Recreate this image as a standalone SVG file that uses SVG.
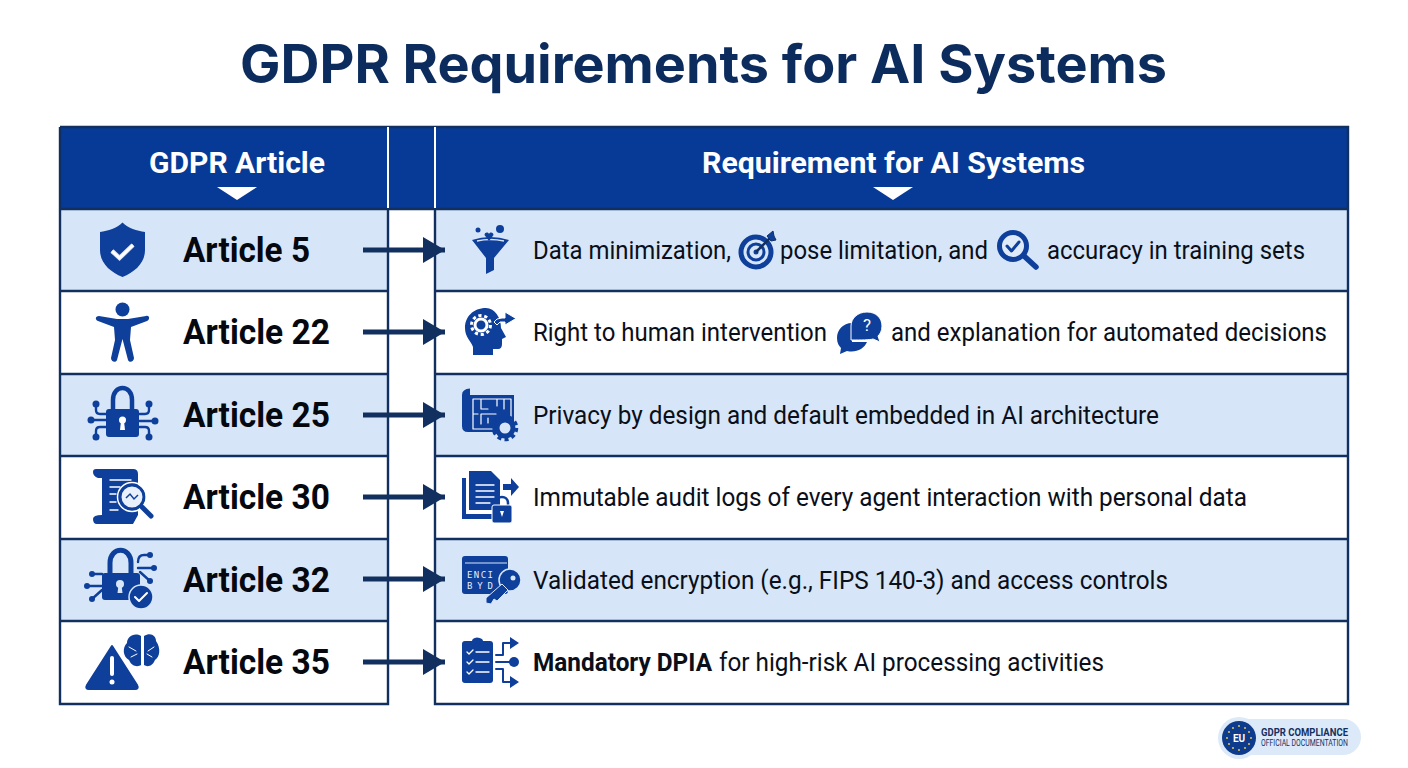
<svg xmlns="http://www.w3.org/2000/svg" width="1408" height="768" viewBox="0 0 1408 768">
<style>
.ttl{font:700 53px Inter,"Liberation Sans",sans-serif;fill:#0c2c5e}
.hd{font:700 30px Roboto,"Liberation Sans",sans-serif;fill:#fff}
.art{font:700 35px Roboto,"Liberation Sans",sans-serif;fill:#05080f}
.req{font:400 26.500px Roboto,"Liberation Sans",sans-serif;fill:#0a0f1a}
.b{font-weight:700}
.blue{fill:#0e3f9b}
.ln{fill:none;stroke:#0e3f9b;stroke-width:2.400;stroke-linecap:round;stroke-linejoin:round}
.wl{fill:none;stroke:#fff;stroke-width:2;stroke-linecap:round;stroke-linejoin:round}
.grid{fill:none;stroke:#12305f;stroke-width:2.400}
.con{stroke:#12305f;stroke-width:5;fill:none}
</style>
<defs>
<marker id="ah" markerUnits="userSpaceOnUse" markerWidth="24" markerHeight="26" refX="22" refY="13" orient="auto"><path d="M0 0L22 13L0 26Z" fill="#12305f"/></marker>
</defs>
<rect width="1408" height="768" fill="#fff"/>
<text class="ttl" x="240" y="83" textLength="927" lengthAdjust="spacingAndGlyphs">GDPR Requirements for AI Systems</text>

<g id="table">
<rect x="60" y="127" width="1288" height="82" fill="#063a96"/>
<rect x="60" y="209" width="328" height="82" fill="#d6e6f8"/><rect x="435" y="209" width="913" height="82" fill="#d6e6f8"/>
<rect x="60" y="374" width="328" height="82" fill="#d6e6f8"/><rect x="435" y="374" width="913" height="82" fill="#d6e6f8"/>
<rect x="60" y="539" width="328" height="82" fill="#d6e6f8"/><rect x="435" y="539" width="913" height="82" fill="#d6e6f8"/>
<path class="grid" d="M60 127H1348V704H435V209M388 209V704H60V127M60 209H1348M60 291H388M435 291H1348M60 374H388M435 374H1348M60 456H388M435 456H1348M60 539H388M435 539H1348M60 621H388M435 621H1348"/>
<path d="M388 127V208M435 127V208" stroke="#fff" stroke-width="2" fill="none"/>
</g>

<g id="header-article"><text class="hd" x="149" y="173" textLength="176" lengthAdjust="spacingAndGlyphs">GDPR Article</text><path d="M217 187H257L237 200Z" fill="#fff"/></g>
<g id="header-requirement"><text class="hd" x="702" y="173" textLength="383" lengthAdjust="spacingAndGlyphs">Requirement for AI Systems</text><path d="M873 187H913L893 200Z" fill="#fff"/></g>

<g id="connectors">
<path class="con" d="M363 250H445" marker-end="url(#ah)"/>
<path class="con" d="M363 332H445" marker-end="url(#ah)"/>
<path class="con" d="M363 415H445" marker-end="url(#ah)"/>
<path class="con" d="M363 497H445" marker-end="url(#ah)"/>
<path class="con" d="M363 579H445" marker-end="url(#ah)"/>
<path class="con" d="M363 662H445" marker-end="url(#ah)"/>
</g>

<g id="article-5">
<path class="blue" d="M122.500 222.500C128 228 137 231 145 232V250C145 263 135 272 122.500 277C110 272 100 263 100 250V232C108 231 117 228 122.500 222.500Z"/>
<path d="M112 251L119.500 258L133 245" fill="none" stroke="#fff" stroke-width="4.500" stroke-opacity=".85"/>
<path d="M112 251L119.500 258L133 245" fill="none" stroke="#fff" stroke-width="2.500"/>
<text class="art" x="183" y="261.500" textLength="127" lengthAdjust="spacingAndGlyphs">Article 5</text>
</g>
<g id="article-22">
<circle class="blue" cx="122.500" cy="309.500" r="7"/>
<path class="blue" d="M99 316L117 319H128L146 316C150 315 150 320 147 321L131 327L130 340L134 358C134 362 129 363 128 360L122.500 339L117 360C116 363 111 362 111 358L115 340L114 327L98 321C95 320 95 316 99 316Z"/>
<text class="art" x="183" y="344" textLength="147" lengthAdjust="spacingAndGlyphs">Article 22</text>
</g>
<g id="article-25">
<path class="ln" style="stroke-width:4.500" d="M113 410V400C113 384 132 384 132 400V410"/>
<rect class="blue" x="106" y="409" width="33" height="28" rx="3"/>
<circle cx="122.500" cy="420" r="3.500" fill="#fff"/><path d="M121 421H124L125 430H120Z" fill="#fff"/>
<path class="ln" d="M96 404V410Q96 414 100 414H106M91 420H106M96 437V431Q96 427 100 427H106M149 404V410Q149 414 145 414H139M155 421H139M149 437V431Q149 427 145 427H139"/>
<circle class="blue" cx="96" cy="404" r="3.500"/><circle class="blue" cx="91" cy="420" r="3.500"/><circle class="blue" cx="96" cy="437" r="3.500"/><circle class="blue" cx="149" cy="404" r="3.500"/><circle class="blue" cx="155" cy="421" r="3.500"/><circle class="blue" cx="149" cy="437" r="3.500"/>
<text class="art" x="183" y="426.500" textLength="147" lengthAdjust="spacingAndGlyphs">Article 25</text>
</g>
<g id="article-30">
<path class="blue" d="M96 469H133Q138 469 138 474V515L133 524H97Q93 524 93 519Q93 515 102 515V478H98Q93 476 93 472Q93 469 96 469Z"/>
<path class="wl" style="stroke-width:1.400" d="M110 480H131M110 487H120M110 494H116M110 502H116M110 510H118"/>
<circle cx="132" cy="497" r="12" fill="#e8f0fb" stroke="#0e3f9b" stroke-width="3"/>
<circle cx="132" cy="497" r="14.500" fill="none" stroke="#fff" stroke-width="1.500"/>
<path d="M126 498L130 494L134 499L138 495" fill="none" stroke="#0e3f9b" stroke-width="1.500"/>
<path d="M142 507L151 516" stroke="#0e3f9b" stroke-width="5" stroke-linecap="round"/>
<text class="art" x="183" y="509" textLength="147" lengthAdjust="spacingAndGlyphs">Article 30</text>
</g>
<g id="article-32">
<path class="ln" style="stroke-width:5" d="M110 574V563C110 546 131 546 131 563V574"/>
<rect class="blue" x="102" y="573" width="38" height="27" rx="3"/>
<circle cx="120" cy="584" r="4" fill="#d6e6f8"/><path d="M118.500 585H121.500L122.500 593H117.500Z" fill="#d6e6f8"/>
<path class="ln" d="M92 574H102M87 586H102M92 599L102 590M150 555H144Q138 555 138 562M154 568H138M150 581L140 572"/>
<circle class="blue" cx="92" cy="574" r="3"/><circle class="blue" cx="87" cy="586" r="3"/><circle class="blue" cx="92" cy="599" r="3"/><circle class="blue" cx="150" cy="555" r="3"/><circle class="blue" cx="154" cy="568" r="3"/><circle class="blue" cx="150" cy="581" r="3"/>
<circle class="blue" cx="141" cy="597" r="12" stroke="#d6e6f8" stroke-width="1.500"/>
<path class="wl" d="M135 597L139 601L147 593"/>
<text class="art" x="183" y="591.500" textLength="147" lengthAdjust="spacingAndGlyphs">Article 32</text>
</g>
<g id="article-35">
<path class="blue" d="M112 646L137 685Q139 689 135 689H89Q85 689 87 685Z" stroke="#0e3f9b" stroke-width="2" stroke-linejoin="round"/>
<path d="M112 658V674" stroke="#fff" stroke-width="4" stroke-linecap="round"/><circle cx="112" cy="682" r="2.500" fill="#fff"/>
<path class="blue" d="M141 636C134 632 127 637 127 643C122 648 123 657 129 660C132 667 138 667 141 665Z"/>
<path class="blue" d="M144 636C151 632 156 636 156 641C161 648 160 657 155 660C152 667 147 667 144 665Z"/>
<path class="wl" style="stroke-width:1" d="M129 647L136 651M131 657L137 654M154 647L148 651M152 657L147 654"/>
<text class="art" x="183" y="674" textLength="147" lengthAdjust="spacingAndGlyphs">Article 35</text>
</g>

<g id="req-5">
<path class="blue" d="M472 240Q490 234 509 240L494 258V270L486 274V258Z"/>
<path d="M477 241Q490 238 504 241" stroke="#d6e6f8" stroke-width="1.500" fill="none"/>
<circle class="blue" cx="478" cy="230" r="2.500"/><circle class="blue" cx="500" cy="229" r="4"/><path class="blue" d="M489 241L484.500 235C485 232 488 232 489 234C490 232 493 232 493.500 235Z"/>
<text class="req" x="533" y="258.500" textLength="198" lengthAdjust="spacingAndGlyphs">Data minimization,</text>
<circle cx="756" cy="252" r="15" fill="none" stroke="#0e3f9b" stroke-width="5"/>
<circle cx="756" cy="252" r="8" fill="none" stroke="#0e3f9b" stroke-width="3"/>
<circle class="blue" cx="756" cy="252" r="2.500"/>
<path d="M756 252L771 237" stroke="#12305f" stroke-width="2.500"/><path class="blue" d="M767 236L773 231L774 236L776 240L771 241Z" stroke="#12305f" stroke-width="1"/>
<text class="req" x="780" y="258.500" textLength="208" lengthAdjust="spacingAndGlyphs">pose limitation, and</text>
<circle cx="1013" cy="246" r="13.500" fill="#dfeaf8" stroke="#0e3f9b" stroke-width="5"/>
<path class="ln" style="stroke-width:3" d="M1007 246L1011.500 251L1019 242"/>
<path d="M1024 256L1036 267" stroke="#0e3f9b" stroke-width="5.500" stroke-linecap="round"/>
<text class="req" x="1047" y="258.500" textLength="258" lengthAdjust="spacingAndGlyphs">accuracy in training sets</text>
</g>
<g id="req-22">
<path class="blue" d="M486 308C473 308 465 317 465 328C465 337 471 341 473 347V355H493V349H498Q502 349 502 344V339L506 337L501 328C501 318 495 308 486 308Z"/>
<circle cx="481" cy="325" r="9.500" fill="none" stroke="#fff" stroke-width="3" stroke-dasharray="3.200 2.770"/>
<circle cx="481" cy="325" r="6" fill="none" stroke="#fff" stroke-width="3"/>
<path d="M494 322Q496 318 502 318H505V312L516 318.500L505 325V322H500L497 325Z" fill="#0e3f9b" stroke="#fff" stroke-width="1"/>
<text class="req" x="533" y="340.500" textLength="294" lengthAdjust="spacingAndGlyphs">Right to human intervention</text>
<path class="blue" d="M852 323C843 323 837 330 837 338C837 343 839 346 841 348L840 354L847 351C856 353 864 349 867 342H852Z"/>
<path class="blue" d="M867 312C876 312 882 318 882 326C882 331 880 334 878 336L880 342L873 339C870 340 860 340 853 340H851V326C851 318 858 312 867 312Z" stroke="#fff" stroke-width="1"/>
<text x="867" y="331" text-anchor="middle" style="font:400 17px Roboto,sans-serif;fill:#fff">?</text>
<text class="req" x="891" y="340.500" textLength="436" lengthAdjust="spacingAndGlyphs">and explanation for automated decisions</text>
</g>
<g id="req-25">
<path class="blue" d="M462 395Q462 389 470 388.500V395H514V424H496L498 432H468Q462 432 462 426Z"/>
<path class="wl" style="stroke-width:1.200" d="M473 399H511V423M473 399V429H492M481 399V409H488M481 414H496M497 399V406M504 409V399M473 414H478M481 414V424M488 418V423"/>
<circle cx="505" cy="428" r="8" fill="#d6e6f8" stroke="#0e3f9b" stroke-width="5"/>
<circle cx="505" cy="428" r="11.500" fill="none" stroke="#0e3f9b" stroke-width="3.500" stroke-dasharray="4 3.220"/>
<text class="req" x="533" y="423.500" textLength="626" lengthAdjust="spacingAndGlyphs">Privacy by design and default embedded in AI architecture</text>
</g>
<g id="req-30">
<path class="blue" d="M462 478H466V514H494V519H462Z"/>
<path class="blue" d="M469 471H491L500 480V510H469Z"/>
<path class="wl" style="stroke-width:1.300" d="M476 485H494M476 491H494M476 497H494M476 503H490"/>
<path class="blue" d="M503 484H511V478L519 487L511 496V490H503Z"/>
<path d="M496 506V503C496 495 508 495 508 503V506" fill="none" stroke="#0e3f9b" stroke-width="2.500"/><rect class="blue" x="492" y="505" width="20" height="18" rx="2" stroke="#fff"/>
<path d="M500 511H504L502 517Z" fill="#fff"/>
<text class="req" x="533" y="505.500" textLength="714" lengthAdjust="spacingAndGlyphs">Immutable audit logs of every agent interaction with personal data</text>
</g>
<g id="req-32">
<rect class="blue" x="462" y="556" width="46" height="38" rx="3"/>
<path d="M465 563H507" stroke="#d6e6f8" stroke-width="1"/>
<text x="467" y="578" style="font:500 9px 'DejaVu Sans Mono',monospace;fill:#e6eefa" textLength="26">ENCI</text>
<text x="467" y="589" style="font:500 9px 'DejaVu Sans Mono',monospace;fill:#e6eefa" textLength="26">BYD</text>
<circle cx="510" cy="580" r="11" fill="#0e3f9b" stroke="#d6e6f8" stroke-width="1.500"/>
<path class="blue" d="M502 584L508 590L497 601L494 599L491 604L486 603L486 598Z" stroke="#d6e6f8" stroke-width="1"/>
<circle cx="513" cy="578" r="2.500" fill="#d6e6f8"/>
<text class="req" x="533" y="588.500" textLength="635" lengthAdjust="spacingAndGlyphs">Validated encryption (e.g., FIPS 140-3) and access controls</text>
</g>
<g id="req-35">
<rect class="blue" x="462" y="641" width="31" height="42" rx="3"/>
<path class="blue" d="M472 641Q472 638 477 637.500Q483 638 483 641V644H472Z"/>
<path class="wl" style="stroke-width:1.300" d="M467 652L469 654L473 650M467 662L469 664L473 660M467 672L469 674L473 670M476 652H489M476 662H489M476 672H489"/>
<path class="ln" style="stroke-width:2" d="M496 655H503V643H511M496 662H511M496 669H503V682H511"/>
<path class="blue" d="M510 637L519 643L510 649ZM510 676L519 682L510 688Z"/>
<circle class="blue" cx="514" cy="662" r="5"/>
<text class="req" y="670.500"><tspan class="b" x="533" textLength="179" lengthAdjust="spacingAndGlyphs">Mandatory DPIA</tspan><tspan x="719" textLength="385" lengthAdjust="spacingAndGlyphs">for high-risk AI processing activities</tspan></text>
</g>

<g id="badge">
<rect x="1226" y="719" width="135" height="36" rx="18" fill="#dce9f8"/>
<circle cx="1239" cy="738" r="21" fill="#dce9f8"/>
<circle cx="1239" cy="738" r="17" fill="#0e3b8c"/>
<g fill="#e2c95b"><circle cx="1239" cy="726" r="1"/><circle cx="1245" cy="728" r="1"/><circle cx="1249" cy="732" r="1"/><circle cx="1251" cy="738" r="1"/><circle cx="1249" cy="744" r="1"/><circle cx="1245" cy="748" r="1"/><circle cx="1239" cy="750" r="1"/><circle cx="1233" cy="748" r="1"/><circle cx="1229" cy="744" r="1"/><circle cx="1227" cy="738" r="1"/><circle cx="1229" cy="732" r="1"/><circle cx="1233" cy="728" r="1"/></g>
<text x="1239" y="742" text-anchor="middle" style="font:700 10px Roboto,sans-serif;fill:#fff">EU</text>
<text x="1261" y="736" textLength="87" lengthAdjust="spacingAndGlyphs" style="font:700 10px Roboto,sans-serif;fill:#14305f">GDPR COMPLIANCE</text>
<text x="1261" y="746" textLength="87" lengthAdjust="spacingAndGlyphs" style="font:400 8.500px Roboto,sans-serif;fill:#14305f">OFFICIAL DOCUMENTATION</text>
</g>
</svg>
